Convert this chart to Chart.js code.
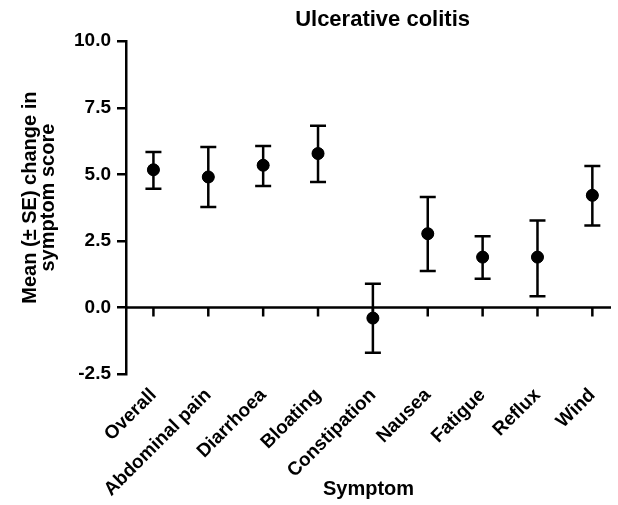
<!DOCTYPE html>
<html>
<head>
<meta charset="utf-8">
<script src="https://cdn.jsdelivr.net/npm/chart.js@4.4.1/dist/chart.umd.min.js"></script>
<style>
  html, body { margin: 0; padding: 0; background: #fff; overflow: hidden; }
  #wrap { width: 618px; height: 505px; }
</style>
</head>
<body>
<div id="wrap"><canvas id="chart"></canvas></div>
<script>
// data
var symptoms = ['Overall', 'Abdominal pain', 'Diarrhoea', 'Bloating', 'Constipation',
  'Nausea', 'Fatigue', 'Reflux', 'Wind'];
var means = [5.17, 4.90, 5.34, 5.78, -0.40, 2.77, 1.89, 1.89, 4.21];
var upper = [5.84, 6.03, 6.06, 6.82, 0.89, 4.15, 2.67, 3.27, 5.31];
var lower = [4.46, 3.77, 4.56, 4.71, -1.70, 1.37, 1.08, 0.42, 3.08];
var yTicks = [-2.5, 0, 2.5, 5, 7.5, 10];

var FONT = "'Liberation Sans', Arial, Helvetica, sans-serif";
Chart.defaults.color = '#000';
Chart.defaults.font.family = FONT;

// zero axis line with its tick marks, plus the SE bars
var errorBars = {
  id: 'errorBars',
  afterDatasetsDraw: function(chart) {
    var ctx = chart.ctx, x = chart.scales.x, y = chart.scales.y;
    var area = chart.chartArea;
    ctx.save();
    ctx.strokeStyle = '#000';
    ctx.lineWidth = 2.5;
    var y0 = y.getPixelForValue(0);
    ctx.beginPath();
    ctx.moveTo(area.left, y0);
    ctx.lineTo(area.right, y0);
    symptoms.forEach(function(s, i) {
      var px = x.getPixelForValue(i);
      ctx.moveTo(px, y0);
      ctx.lineTo(px, y0 + 9);
    });
    ctx.stroke();

    ctx.beginPath();
    symptoms.forEach(function(s, i) {
      var px = x.getPixelForValue(i);
      var top = y.getPixelForValue(upper[i]);
      var bot = y.getPixelForValue(lower[i]);
      ctx.moveTo(px, top); ctx.lineTo(px, bot);
      ctx.moveTo(px - 8, top); ctx.lineTo(px + 8, top);
      ctx.moveTo(px - 8, bot); ctx.lineTo(px + 8, bot);
    });
    ctx.stroke();

    // redraw the points on top of the bars
    ctx.fillStyle = '#000';
    symptoms.forEach(function(s, i) {
      ctx.beginPath();
      ctx.arc(x.getPixelForValue(i), y.getPixelForValue(means[i]), 6, 0, Math.PI * 2);
      ctx.fill();
    });
    ctx.restore();
  }
};

new Chart(document.getElementById('chart'), {
  type: 'scatter',
  data: {
    datasets: [{
      data: means.map(function(m, i) { return { x: i, y: m }; }),
      backgroundColor: '#000',
      borderColor: '#000',
      pointRadius: 6
    }]
  },
  options: {
    responsive: true,
    maintainAspectRatio: false,
    animation: false,
    layout: { padding: 0 },
    plugins: {
      legend: { display: false },
      tooltip: { enabled: false },
      title: {
        display: true,
        fullSize: false,
        text: '\u2003 Ulcerative colitis',
        font: { size: 22, weight: 'bold', lineHeight: 1.1 },
        padding: { top: 8, bottom: 9 },
        color: '#000'
      }
    },
    scales: {
      x: {
        type: 'linear',
        min: -0.5,
        max: 8.34,
        afterBuildTicks: function(scale) {
          scale.ticks = symptoms.map(function(s, i) { return { value: i }; });
        },
        afterFit: function(scale) { scale.height = 131; },
        grid: { display: false },
        border: { display: false },
        ticks: {
          autoSkip: false,
          maxRotation: 45,
          minRotation: 45,
          padding: 2,
          font: { size: 19, weight: 'bold' },
          callback: function(v) { return symptoms[v]; }
        },
        title: {
          display: true,
          text: 'Symptom',
          font: { size: 20, weight: 'bold', lineHeight: 1.2 },
          padding: { top: 0, bottom: 4 }
        }
      },
      y: {
        min: -2.5,
        max: 10,
        afterBuildTicks: function(scale) {
          scale.ticks = yTicks.map(function(v) { return { value: v }; });
        },
        afterFit: function(scale) { scale.width = 126; },
        border: { display: true, color: '#000', width: 2.5 },
        grid: {
          drawOnChartArea: false,
          drawTicks: true,
          tickLength: 9,
          color: '#000',
          lineWidth: 2.5
        },
        ticks: {
          padding: 6,
          font: { size: 19, weight: 'bold' },
          callback: function(v) { return v.toFixed(1); }
        },
        title: {
          display: true,
          text: ['\u2003Mean (\u00b1 SE) change in', '\u2003symptom score'],
          font: { size: 20, weight: 'bold', lineHeight: 0.9 },
          padding: { top: 21, bottom: 0 }
        }
      }
    }
  },
  plugins: [errorBars]
});
</script>
</body>
</html>
